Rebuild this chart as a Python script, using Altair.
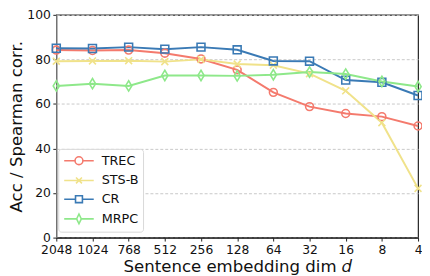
import altair as alt
import pandas as pd

dims = ["2048", "1024", "768", "512", "256", "128", "64", "32", "16", "8", "4"]
series_names = ["TREC", "STS-B", "CR", "MRPC"]
trec = [84.2, 84.0, 84.2, 82.8, 80.2, 75.3, 65.2, 58.8, 55.7, 54.3, 50.1]
stsb = [79.2, 79.3, 79.4, 79.0, 80.0, 77.9, 77.4, 73.6, 65.9, 51.6, 22.1]
cr = [85.0, 84.9, 85.5, 84.6, 85.5, 84.3, 79.3, 79.2, 70.7, 69.7, 63.8]
mrpc = [68.1, 69.1, 68.1, 72.8, 72.8, 72.6, 73.1, 74.3, 73.4, 70.1, 67.8]
colors = ["#f47a6d", "#f0e28a", "#3a7ab5", "#8ee88a"]

rows = []
for name, vals in zip(series_names, [trec, stsb, cr, mrpc]):
    for d, v in zip(dims, vals):
        rows.append({"dim": d, "value": v, "series": name})
df = pd.DataFrame(rows)

# marker shapes for the plot
plot_shapes = {
    "TREC": "circle",
    "STS-B": "M-1,-1L1,1M-1,1L1,-1",
    "CR": "square",
    "MRPC": "M0,-1L0.6,0L0,1L-0.6,0Z",
}
plot_sizes = {"TREC": 64, "STS-B": 49, "CR": 64, "MRPC": 110}

# legend symbols: line + marker (unit = 7px)
L = 2.14
c = 0.57
s = 0.5
dw, dh = 0.34, 0.71
xh = 0.43
leg_paths = [
    f"M-{L},0L-{c},0M{c},0L{L},0M-{c},0A{c},{c} 0 1,0 {c},0A{c},{c} 0 1,0 -{c},0",
    f"M-{L},0L{L},0M-{xh},-{xh}L{xh},{xh}M-{xh},{xh}L{xh},-{xh}",
    f"M-{L},0L-{s},0M{s},0L{L},0M-{s},-{s}H{s}V{s}H-{s}Z",
    f"M-{L},0L-{dw},0M{dw},0L{L},0M0,-{dh}L{dw},0L0,{dh}L-{dw},0Z",
]

x_enc = alt.X("dim:O", sort=dims, scale=alt.Scale(type="point", padding=0),
              axis=alt.Axis(title="Sentence embedding dim 𝑑", labelAngle=0))
y_enc = alt.Y("value:Q", scale=alt.Scale(domain=[0, 100], nice=False),
              axis=alt.Axis(title="Acc / Spearman corr.", values=[0, 20, 40, 60, 80, 100]))
color_scale = alt.Scale(domain=series_names, range=colors)

base = alt.Chart(df)

leg_props = dict(
    title=None, orient="none", legendX=2, legendY=136,
    symbolSize=196, symbolStrokeWidth=1.6, symbolOffset=9,
    labelFontSize=13, labelFont="DejaVu Sans",
    labelColor="#111", padding=4, rowPadding=4, labelOffset=15,
    strokeColor="#d8d8d8", fillColor="white", cornerRadius=3,
)

legend_layer = base.transform_filter("false").mark_point(filled=False, strokeWidth=1.6, opacity=1).encode(
    x=x_enc, y=y_enc,
    color=alt.Color("series:N", scale=color_scale, legend=alt.Legend(**leg_props)),
    shape=alt.Shape("series:N", scale=alt.Scale(domain=series_names, range=leg_paths),
                    legend=alt.Legend(**leg_props)),
)

lines = base.mark_line(strokeWidth=2).encode(
    x=x_enc, y=y_enc,
    color=alt.Color("series:N", scale=color_scale, legend=None),
    detail="series:N",
)

point_layers = []
for name in series_names:
    point_layers.append(
        base.transform_filter(alt.datum.series == name).mark_point(
            shape=plot_shapes[name], size=plot_sizes[name], filled=False, strokeWidth=1.6, opacity=1
        ).encode(
            x=x_enc, y=y_enc,
            color=alt.Color("series:N", scale=color_scale, legend=None),
        )
    )

chart = alt.layer(legend_layer, lines, *point_layers).resolve_legend(
    color="independent", shape="independent"
).properties(
    width=367, height=226,
    autosize=alt.AutoSizeParams(type="none"),
    padding={"left": 49, "top": 5, "right": 4, "bottom": 36},
).configure_view(
    stroke="#222", strokeWidth=1.2
).configure_axis(
    labelFont="DejaVu Sans", titleFont="DejaVu Sans", labelFontSize=12.5, titleFontSize=16.8,
    labelColor="#111", titleColor="#111", titleFontWeight="normal",
    tickColor="#222", tickSize=3.5, domainColor="#222", domainWidth=1.2,
).configure_axisY(
    grid=True, gridDash=[3, 2], gridColor="#c8c8c8", gridWidth=1,
    labelPadding=2.5, titlePadding=1, domainColor="#888",
).configure_axisX(
    grid=False, labelPadding=2.5, titlePadding=3,
)

chart.save("out.html", embed_options={"renderer": "svg", "actions": False})
